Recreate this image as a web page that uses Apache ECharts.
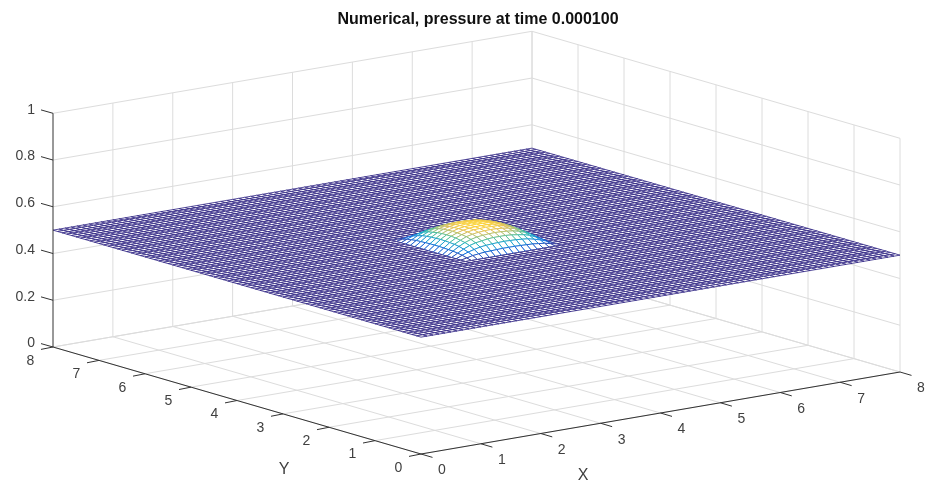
<!DOCTYPE html>
<html><head><meta charset="utf-8">
<style>html,body{margin:0;padding:0;background:#fff}#c{width:926px;height:487px;filter:blur(0.35px)}</style>
<script src="https://cdn.jsdelivr.net/npm/echarts@6/dist/echarts.min.js"></script>
</head><body><div id="c"></div>
<script>
const titleText = 'Numerical, pressure at time 0.000100';
const xTicks = [0,1,2,3,4,5,6,7,8];
const yTicks = [0,1,2,3,4,5,6,7,8];
const zTicks = [0,0.2,0.4,0.6,0.8,1];
const axisNames = [[583,476,'X'],[284,470,'Y']];
const meshCells = 80;            // cells per side over 0..8
const basePressure = 0.5;
const bumpStart = 3.2;           // first x and y node of the table below
const bumpStep = 0.1;
// pressure rise over the base level, thousandths, read from the dome
const bumpRise = [
[0,0,0,0,0,0,0,0,0,0,0,0,0,0,0,0,0],
[0,5,11,14,17,18,19,20,20,20,19,18,17,14,11,5,0],
[0,11,20,27,33,36,38,39,40,39,38,36,33,27,20,11,0],
[0,14,27,38,45,49,53,55,55,55,53,49,45,38,27,14,0],
[0,17,33,45,54,60,63,65,66,65,63,60,54,45,33,17,0],
[0,18,36,49,60,66,70,72,73,72,70,66,60,49,36,18,0],
[0,19,38,53,63,70,75,76,77,76,75,70,63,53,38,19,0],
[0,20,39,55,65,72,76,78,78,78,76,72,65,55,39,20,0],
[0,20,40,55,66,73,77,78,79,78,77,73,66,55,40,20,0],
[0,20,39,55,65,72,76,78,78,78,76,72,65,55,39,20,0],
[0,19,38,53,63,70,75,76,77,76,75,70,63,53,38,19,0],
[0,18,36,49,60,66,70,72,73,72,70,66,60,49,36,18,0],
[0,17,33,45,54,60,63,65,66,65,63,60,54,45,33,17,0],
[0,14,27,38,45,49,53,55,55,55,53,49,45,38,27,14,0],
[0,11,20,27,33,36,38,39,40,39,38,36,33,27,20,11,0],
[0,5,11,14,17,18,19,20,20,20,19,18,17,14,11,5,0],
[0,0,0,0,0,0,0,0,0,0,0,0,0,0,0,0,0]];
const parula = ['#352a87','#0363e1','#1485d4','#06a7c6','#38b99e','#92bf73','#d9ba56','#fcce2e','#f9fb0e'];

// Orthographic view of the axes box
const view = {ox:421, oy:454, xx:59.875, xy:-10.25, yx:-46, yy:-13.375, zy:-233.7};
function proj(x,y,z){ return [view.ox+x*view.xx+y*view.yx, view.oy+x*view.xy+y*view.yy+z*view.zy]; }

const h = 8/meshCells, offset = Math.round(bumpStart/bumpStep);
function zAt(i,j){
  const r = bumpRise[j-offset], v = r ? r[i-offset] : undefined;
  return basePressure + (v===undefined?0:v)/1000;
}
let zMin=basePressure, zMax=basePressure;
bumpRise.forEach(r=>r.forEach(v=>{zMax=Math.max(zMax,basePressure+v/1000);}));
function col(z){ return echarts.color.lerp(Math.min(1,(z-zMin)/(zMax-zMin)/1.12), parula); }

// far cells first, so that near ones hide them
const cells=[];
for(let j=meshCells-1;j>=0;j--) for(let i=meshCells-1;i>=0;i--) cells.push([i,j]);

const gridSegs=[], axisSegs=[], labels=[];
const X=8,Y=8,Z=1;
xTicks.forEach(t=>{ gridSegs.push([t,0,0,t,Y,0]); if(t>0) gridSegs.push([t,Y,0,t,Y,Z]); });
yTicks.forEach(t=>{ gridSegs.push([0,t,0,X,t,0]); gridSegs.push([X,t,0,X,t,Z]); });
zTicks.forEach(t=>{ gridSegs.push([0,Y,t,X,Y,t]); gridSegs.push([X,Y,t,X,0,t]); });
axisSegs.push([0,Y,0,0,Y,Z],[0,0,0,X,0,0],[0,0,0,0,Y,0]);
const tickSegs=[];
xTicks.forEach(t=>{tickSegs.push([...proj(t,0,0),11.5,3.4]); const p=proj(t,0,0); labels.push([p[0]+21,p[1]+16.5,String(t),'center']);});
yTicks.forEach(t=>{tickSegs.push([...proj(0,t,0),-12,2.4]); const p=proj(0,t,0); labels.push([p[0]-22.5,p[1]+14,String(t),'center']);});
zTicks.forEach(t=>{tickSegs.push([...proj(0,Y,t),-12,-3.4]); const p=proj(0,Y,t); labels.push([p[0]-18,p[1]-3.5,String(t),'right']);});

function segSeries(data,color,z){
  return {type:'custom',coordinateSystem:'cartesian2d',silent:true,animation:false,z,clip:false,data,
    renderItem:(params,api)=>{
      const d=data[params.dataIndex];
      const a=api.coord(proj(d[0],d[1],d[2])), b=api.coord(proj(d[3],d[4],d[5]));
      return {type:'line',shape:{x1:a[0],y1:a[1],x2:b[0],y2:b[1]},style:{stroke:color,lineWidth:1},silent:true};
    }};
}
const chart=echarts.init(document.getElementById('c'),null,{renderer:'canvas',width:926,height:487});
chart.setOption({
  animation:false,backgroundColor:'#ffffff',
  title:{text:titleText,left:473,top:7,textAlign:'center',
    textStyle:{fontFamily:'Liberation Sans',fontWeight:'bold',fontSize:16,color:'#111111'}},
  grid:{left:0,right:0,top:0,bottom:0},
  xAxis:{type:'value',min:0,max:926,show:false},
  yAxis:{type:'value',min:0,max:487,inverse:true,show:false},
  series:[
    segSeries(gridSegs,'#dcdcdc',1),
    {type:'custom',coordinateSystem:'cartesian2d',silent:true,animation:false,z:2,clip:false,progressive:0,data:cells,
      renderItem:(params,api)=>{
        const [i,j]=cells[params.dataIndex];
        const zs=[zAt(i,j),zAt(i+1,j),zAt(i+1,j+1),zAt(i,j+1)];
        const pts=[[i,j],[i+1,j],[i+1,j+1],[i,j+1]].map((q,k)=>api.coord(proj(q[0]*h,q[1]*h,zs[k])));
        const m=(zs[0]+zs[1]+zs[2]+zs[3])/4;
        return {type:'polygon',shape:{points:pts},style:{fill:'#ffffff',stroke:col(m),lineWidth:0.85},silent:true};
      }},
    segSeries(axisSegs,'#333333',3),
    {type:'custom',coordinateSystem:'cartesian2d',silent:true,animation:false,z:3,clip:false,data:tickSegs,
      renderItem:(params,api)=>{
        const d=tickSegs[params.dataIndex];
        const a=api.coord([d[0],d[1]]), b=api.coord([d[0]+d[2],d[1]+d[3]]);
        return {type:'line',shape:{x1:a[0],y1:a[1],x2:b[0],y2:b[1]},style:{stroke:'#333333',lineWidth:1},silent:true};
      }},
    {type:'custom',coordinateSystem:'cartesian2d',silent:true,animation:false,z:4,clip:false,data:labels,
      renderItem:(params,api)=>{
        const d=labels[params.dataIndex], p=api.coord([d[0],d[1]]);
        return {type:'text',x:p[0],y:p[1],style:{text:d[2],fill:'#404040',font:'14px "Liberation Sans"',align:d[3],verticalAlign:'middle'},silent:true};
      }},
    {type:'custom',coordinateSystem:'cartesian2d',silent:true,animation:false,z:4,clip:false,data:axisNames,
      renderItem:(params,api)=>{
        const d=axisNames[params.dataIndex], p=api.coord([d[0],d[1]]);
        return {type:'text',x:p[0],y:p[1],style:{text:d[2],fill:'#404040',font:'16px "Liberation Sans"',align:'center',verticalAlign:'middle'},silent:true};
      }}
  ]
});
</script></body></html>
